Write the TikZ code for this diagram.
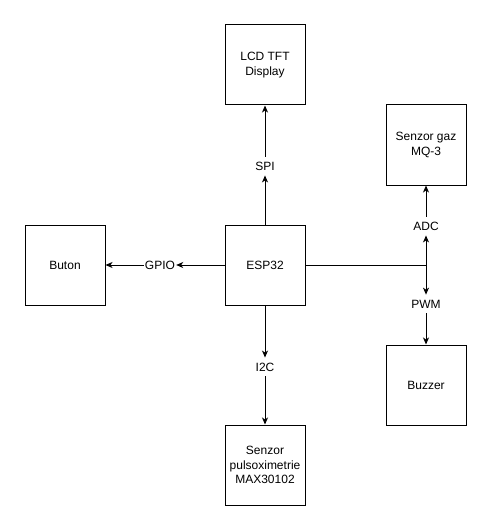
\documentclass[tikz,border=0pt]{standalone}
\usepackage{fontspec}
\setmainfont{Liberation Sans}
\usetikzlibrary{arrows.meta}

\begin{document}
\begin{tikzpicture}[x=1pt, y=-1pt,
    block/.style={draw, line width=1pt, minimum width=80pt, minimum height=80pt, align=center, inner sep=1pt, font=\fontsize{12}{14.4}\selectfont},
    bus/.style={inner xsep=1pt, inner ysep=5pt, font=\fontsize{12}{14.4}\selectfont},
    link/.style={line width=1pt, -{Stealth[length=7pt, width=6pt, inset=2pt]}}]
            \useasboundingbox (0,0) rectangle (491,532);

            % Define blocks
            \node[block] (esp) at (265,265) {ESP32};
            \node[block] (lcd) at (265,65) {LCD TFT\\Display};
            \node[block] (buton) at (65,265) {Buton};
            \node[block] (gaz) at (426,145) {Senzor gaz\\MQ-3};
            \node[block] (buzzer) at (426,385) {Buzzer};
            \node[block] (puls) at (265,465) {Senzor\\pulsoximetrie\\MAX30102};

            % Define bus labels
            \node[bus] (spi) at (265,166) {SPI};
            \node[bus] (gpio) at (160,265) {GPIO};
            \node[bus] (adc) at (426,226) {ADC};
            \node[bus] (pwm) at (426,304) {PWM};
            \node[bus] (i2c) at (265,367) {I2C};
            \coordinate (split) at (426,265);

            % Draw edges with arrows
            \draw[link] (esp) -- (spi);
            \draw[link] (spi) -- (lcd);
            \draw[link] (esp) -- (gpio);
            \draw[link] (gpio) -- (buton);
            \draw[link] (esp) -- (i2c);
            \draw[link] (i2c) -- (puls);
            \draw[line width=1pt] (esp) -- (split);
            \draw[link] (split) -- (adc);
            \draw[link] (adc) -- (gaz);
            \draw[link] (split) -- (pwm);
            \draw[link] (pwm) -- (buzzer);
        \end{tikzpicture}
\end{document}
